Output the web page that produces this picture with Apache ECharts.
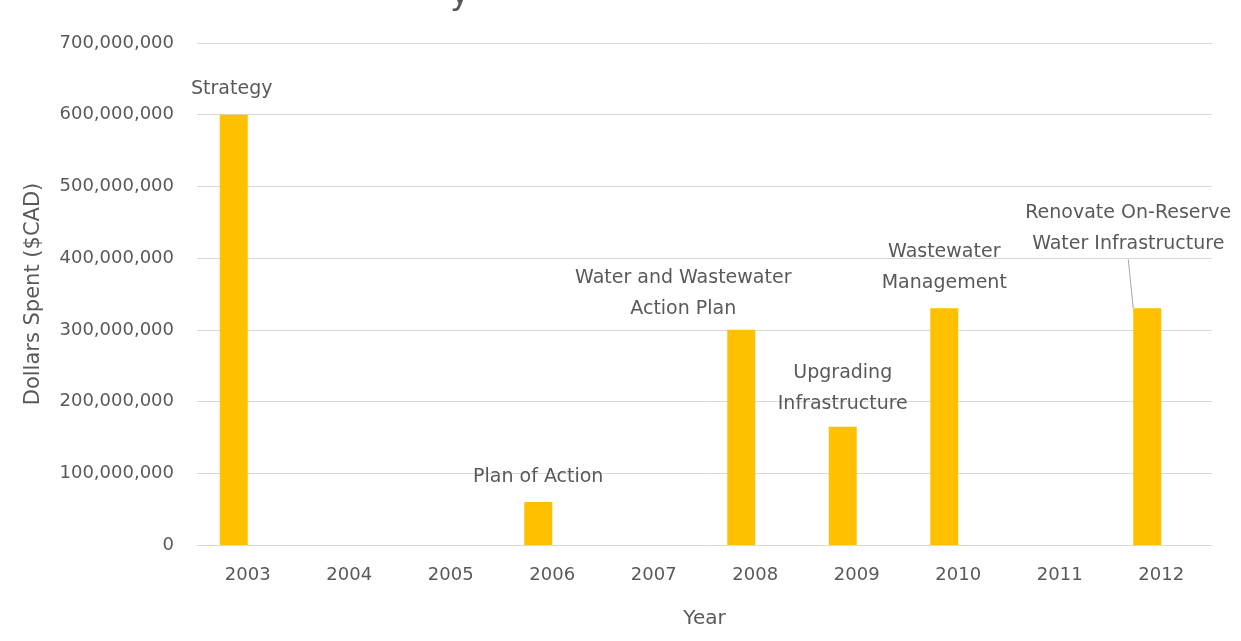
<!DOCTYPE html>
<html>
<head>
<meta charset="utf-8">
<script src="https://cdn.jsdelivr.net/npm/echarts@6/dist/echarts.min.js"></script>
<style>
html,body{margin:0;padding:0;background:#fff;}
#chart{width:1241px;height:641px;}
</style>
</head>
<body>
<div id="chart"></div>
<script>
const years = ['2003','2004','2005','2006','2007','2008','2009','2010','2011','2012'];
const dollarsSpent = [600000000, 0, 0, 60000000, 0, 300000000, 165000000, 330000000, 0, 330000000];
const programNames = ['Strategy', '', '', 'Plan of Action', '', 'Water and Wastewater\nAction Plan', 'Upgrading\nInfrastructure', 'Wastewater\nManagement', '', 'Renovate On-Reserve\nWater Infrastructure'];
const emptySeries = [null, null, null, null, null, null, null, null, null, null];
const yTicks = { min: 0, max: 700000000, interval: 100000000 };

const FONT = 'DejaVu Sans';
const TXT = '#595959';

// label placement tweaks (style only): [dx, dy]
const labelShift = {0: [-2, 2], 3: [0, 3], 5: [-58, 7], 6: [0, 5], 7: [0, 2], 9: [-19, -37]};

const chart = echarts.init(document.getElementById('chart'), null, {renderer: 'canvas'});
chart.setOption({
  backgroundColor: '#ffffff',
  animation: false,
  graphic: [{
    type: 'text', left: 450, top: -22,
    style: { text: 'y', font: '34px ' + FONT, fill: TXT }
  }],
  grid: { left: 197, right: 29, top: 43, bottom: 96, containLabel: false },
  xAxis: {
    type: 'category',
    data: years,
    name: 'Year',
    nameLocation: 'middle',
    nameGap: 64,
    nameTextStyle: { color: TXT, fontSize: 20, fontFamily: FONT },
    axisLine: { show: true, lineStyle: { color: '#D9D9D9', width: 1 } },
    axisTick: { show: false },
    axisLabel: { color: TXT, fontSize: 18, fontFamily: FONT, margin: 21 }
  },
  yAxis: {
    type: 'value',
    min: yTicks.min, max: yTicks.max, interval: yTicks.interval,
    name: 'Dollars Spent ($CAD)',
    nameLocation: 'middle',
    nameRotate: 90,
    nameGap: 153,
    nameTextStyle: { color: TXT, fontSize: 21, fontFamily: FONT },
    axisLine: { show: false },
    axisTick: { show: false },
    splitLine: { lineStyle: { color: '#D9D9D9', width: 1 } },
    axisLabel: {
      color: TXT, fontSize: 18, fontFamily: FONT, margin: 23,
      formatter: v => v.toLocaleString('en-US')
    }
  },
  series: [{
    type: 'bar',
    barWidth: 28,
    barGap: '0%',
    itemStyle: { color: '#FFC000' },
    data: dollarsSpent.map((v, i) => {
      const item = { value: v };
      if (i === 9) item.labelLine = { show: true, lineStyle: { color: '#A6A6A6', width: 1 } };
      return item;
    }),
    label: {
      show: true,
      position: 'top',
      distance: 12,
      color: TXT,
      fontSize: 19,
      fontFamily: FONT,
      lineHeight: 31,
      align: 'center',
      formatter: p => programNames[p.dataIndex]
    },
    labelLayout: p => {
      const s = labelShift[p.dataIndex];
      return s ? { dx: s[0], dy: s[1] } : {};
    },
    labelLine: { show: false },
    z: 2
  }, {
    type: 'bar',
    barWidth: 28,
    data: emptySeries
  }]
});
</script>
</body>
</html>
